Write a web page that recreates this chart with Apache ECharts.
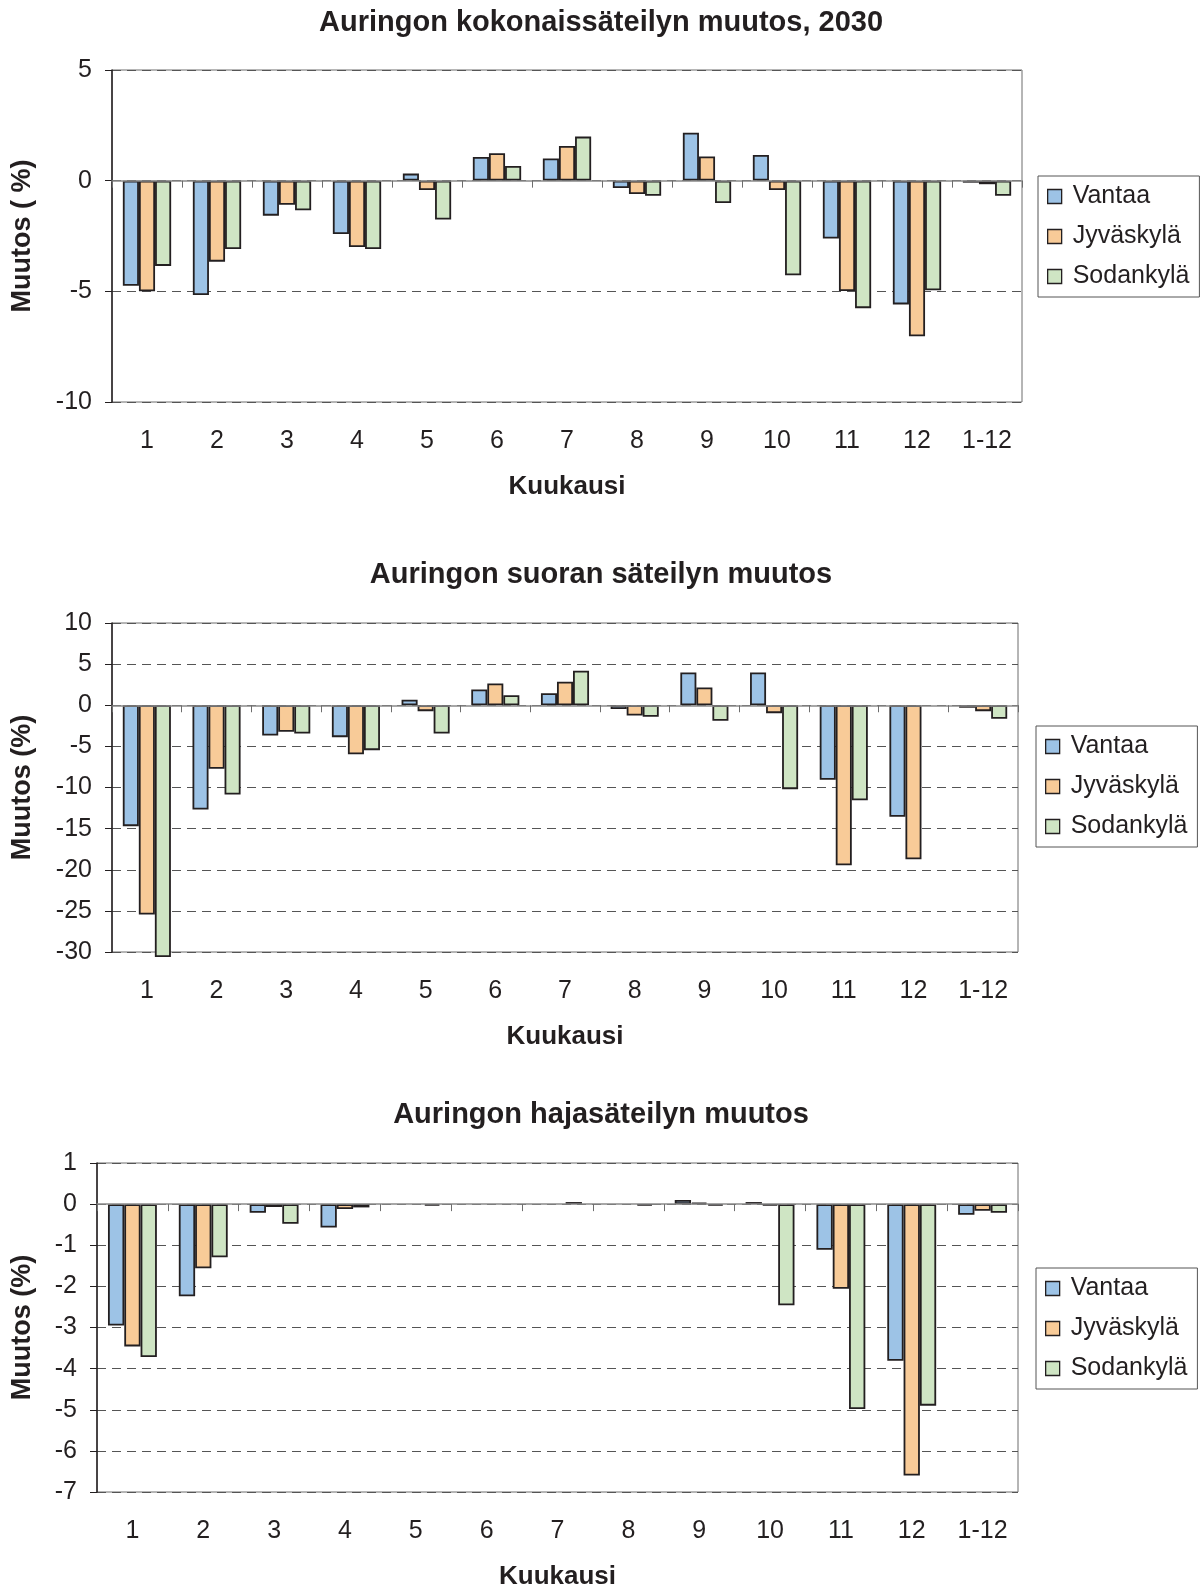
<!DOCTYPE html>
<html>
<head>
<meta charset="utf-8">
<style>
  html, body { margin: 0; padding: 0; background: #ffffff; }
  #main { width: 1203px; height: 1586px; }
</style>
<script src="https://cdn.jsdelivr.net/npm/echarts@6/dist/echarts.min.js"></script>
</head>
<body>
<div id="main"></div>
<script>
// Kuukaudet ja koko vuosi
const months = ['1', '2', '3', '4', '5', '6', '7', '8', '9', '10', '11', '12', '1-12'];
const stations = ['Vantaa', 'Jyväskylä', 'Sodankylä'];

// Kokonaissäteilyn muutos (%), 2030
const totalVantaa    = [-4.75, -5.17, -1.58, -2.41, 0.32, 1.07, 1.00, -0.33, 2.17, 1.16, -2.61, -5.59, -0.09];
const totalJyvaskyla = [-5.00, -3.66, -1.09, -3.00, -0.42, 1.24, 1.57, -0.60, 1.09, -0.42, -4.99, -7.03, -0.16];
const totalSodankyla = [-3.85, -3.09, -1.34, -3.09, -1.76, 0.66, 1.99, -0.68, -1.01, -4.27, -5.76, -4.95, -0.68];

// Suoran säteilyn muutos (%)
const directVantaa    = [-14.7, -12.68, -3.67, -3.88, 0.67, 1.92, 1.47, -0.47, 3.99, 3.99, -9.07, -13.57, -0.30];
const directJyvaskyla = [-25.45, -7.73, -3.23, -5.95, -0.72, 2.65, 2.86, -1.24, 2.17, -0.96, -19.45, -18.72, -0.72];
const directSodankyla = [-30.6, -10.85, -3.43, -5.46, -3.43, 1.23, 4.20, -1.40, -1.89, -10.2, -11.55, 0, -1.64];

// Hajasäteilyn muutos (%)
const diffuseVantaa    = [-2.95, -2.24, -0.21, -0.57, 0, 0, 0, 0, 0.10, 0.05, -1.11, -3.81, -0.26];
const diffuseJyvaskyla = [-3.46, -1.56, -0.07, -0.12, 0, 0, 0, 0, 0.04, -0.04, -2.06, -6.60, -0.16];
const diffuseSodankyla = [-3.72, -1.29, -0.48, -0.08, -0.04, 0, 0.05, -0.04, -0.04, -2.46, -4.98, -4.90, -0.21];

// Akselien asteikot
const totalTicks   = { min: -10, max: 5, interval: 5 };
const directTicks  = { min: -30, max: 10, interval: 5 };
const diffuseTicks = { min: -7, max: 1, interval: 1 };

const FONT = "'Liberation Sans', Arial, Helvetica, sans-serif";
const TEXT = '#231f20';
const colors = ['#9dc3e6', '#f8cb98', '#cfe5c4'];

const panels = [
  {
    title: 'Auringon kokonaissäteilyn muutos, 2030', titleTop: 3,
    yName: 'Muutos ( %)', ticks: totalTicks,
    grid: { left: 112, top: 70, width: 910, height: 332 },
    legendPos: { left: 1038, top: 176 },
    data: [totalVantaa, totalJyvaskyla, totalSodankyla], clip: true
  },
  {
    title: 'Auringon suoran säteilyn muutos', titleTop: 555,
    yName: 'Muutos (%)', ticks: directTicks,
    grid: { left: 112, top: 623, width: 906, height: 329 },
    legendPos: { left: 1036, top: 726 },
    data: [directVantaa, directJyvaskyla, directSodankyla], clip: false
  },
  {
    title: 'Auringon hajasäteilyn muutos', titleTop: 1095,
    yName: 'Muutos (%)', ticks: diffuseTicks,
    grid: { left: 97, top: 1163, width: 921, height: 329 },
    legendPos: { left: 1036, top: 1268 },
    data: [diffuseVantaa, diffuseJyvaskyla, diffuseSodankyla], clip: true
  }
];

const option = {
  backgroundColor: '#ffffff',
  animation: false,
  textStyle: { fontFamily: FONT },
  title: [], grid: [], xAxis: [], yAxis: [], legend: [], series: []
};

panels.forEach((p, k) => {
  option.title.push({
    text: p.title, left: 596, top: p.titleTop, textAlign: 'center',
    textStyle: { fontFamily: FONT, fontSize: 29, fontWeight: 'bold', color: TEXT }
  });
  option.grid.push(Object.assign({
    show: true, borderColor: '#6d6d6d', borderWidth: 1, backgroundColor: 'transparent',
    containLabel: false, outerBoundsMode: 'none'
  }, p.grid));

  // zero line with the month boundary ticks
  option.xAxis.push({
    type: 'category', gridIndex: k, data: months, position: 'bottom',
    axisLine: { show: true, onZero: true, lineStyle: { color: '#8a8a8a', width: 1.5 } },
    axisTick: { show: true, length: 7, lineStyle: { color: '#6d6d6d', width: 1 } },
    axisLabel: { show: false }, splitLine: { show: false }, z: 5
  });
  // month labels along the bottom of the plot
  option.xAxis.push({
    type: 'category', gridIndex: k, data: months, position: 'bottom',
    axisLine: { show: false, onZero: false }, axisTick: { show: false },
    axisLabel: { margin: 27, fontSize: 25, color: TEXT, fontFamily: FONT },
    splitLine: { show: false },
    name: 'Kuukausi', nameLocation: 'middle', nameGap: 72,
    nameTextStyle: { fontSize: 26, fontWeight: 'bold', color: TEXT, fontFamily: FONT }
  });

  option.yAxis.push({
    type: 'value', gridIndex: k,
    min: p.ticks.min, max: p.ticks.max, interval: p.ticks.interval,
    axisLine: { show: true, onZero: false, lineStyle: { color: '#231f20', width: 1.5 } },
    axisTick: { show: true, length: 7, lineStyle: { color: '#231f20', width: 1 } },
    axisLabel: { margin: 20, fontSize: 25, color: TEXT, fontFamily: FONT },
    splitLine: { show: true, lineStyle: { type: [9, 6], color: '#555555', width: 1 } },
    name: p.yName, nameLocation: 'middle', nameRotate: 90, nameGap: p.grid.left - 36,
    nameTextStyle: { fontSize: 27, fontWeight: 'bold', color: TEXT, fontFamily: FONT }
  });

  option.legend.push({
    data: stations, orient: 'vertical',
    left: p.legendPos.left, top: p.legendPos.top,
    padding: [8, 10, 8, 9], itemGap: 15, itemWidth: 14, itemHeight: 14,
    icon: 'rect', selectedMode: false,
    borderColor: '#555555', borderWidth: 1,
    itemStyle: { borderColor: '#231f20', borderWidth: 1.3 },
    textStyle: { fontSize: 25, lineHeight: 25, color: TEXT, fontFamily: FONT, padding: [0, 0, 0, 6] }
  });

  p.data.forEach((values, s) => {
    option.series.push({
      type: 'bar', name: stations[s], xAxisIndex: 2 * k, yAxisIndex: k,
      data: values.map(v => (v === 0 ? '-' : v)),
      barGap: '0%', barCategoryGap: '31%', clip: p.clip,
      itemStyle: { color: colors[s], borderColor: '#231f20', borderWidth: 1.8 },
      emphasis: { disabled: true }, z: 3
    });
  });
});

const chart = echarts.init(document.getElementById('main'), null, { renderer: 'canvas' });
chart.setOption(option);
</script>
</body>
</html>
